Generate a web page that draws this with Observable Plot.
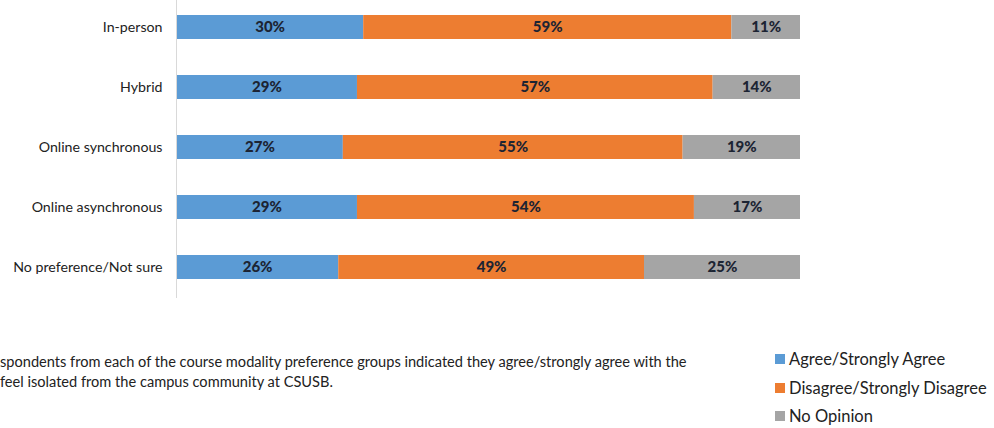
<!DOCTYPE html>
<html>
<head>
<meta charset="utf-8">
<script src="https://cdn.jsdelivr.net/npm/d3@7"></script>
<script src="https://cdn.jsdelivr.net/npm/@observablehq/plot@0.6"></script>
<style>
  html, body { margin: 0; padding: 0; background: #fff; }
  #wrap { position: relative; width: 994px; height: 428px; overflow: hidden; font-family: Lato, "Open Sans", sans-serif; color: #222; }
  #chart { position: absolute; left: 0; top: 0; }
  #caption { position: absolute; left: 0; top: 352px; font-size: 14.6px; line-height: 20px; white-space: nowrap; color: #222; }
  #legend { position: absolute; left: 775px; top: 345px; font-size: 16.5px; color: #222; }
  #legend .row { display: flex; align-items: center; height: 28.5px; white-space: nowrap; }
  #legend .sw { width: 10px; height: 10px; margin-right: 4px; }
</style>
</head>
<body>
<div id="wrap">
  <div id="chart"></div>
  <div id="caption"></div>
  <div id="legend"></div>
</div>
<script>
const categories = ["In-person", "Hybrid", "Online synchronous", "Online asynchronous", "No preference/Not sure"];
const seriesNames = ["Agree/Strongly Agree", "Disagree/Strongly Disagree", "No Opinion"];
const agree = [30, 29, 27, 29, 26];
const disagree = [59, 57, 55, 54, 49];
const noOpinion = [11, 14, 19, 17, 25];
const seriesColors = ["#5B9BD5", "#ED7D31", "#A5A5A5"];
const captionLines = [
  "spondents from each of the course modality preference groups indicated they agree/strongly agree with the",
  "feel isolated from the campus community at CSUSB."
];

const seriesValues = [agree, disagree, noOpinion];
const rows = [];
categories.forEach((c, i) => {
  seriesNames.forEach((s, j) => {
    rows.push({category: c, series: s, value: seriesValues[j][i]});
  });
});

const chart = Plot.plot({
  width: 994,
  height: 312,
  marginLeft: 176,
  marginRight: 194,
  marginTop: -4,
  marginBottom: 14,
  style: {fontFamily: "Lato, 'Open Sans', sans-serif", fontSize: "14.2px", color: "#222", background: "#fff"},
  x: {domain: [0, 1], axis: null},
  y: {domain: categories, paddingInner: 0.6, paddingOuter: 0.3, label: null, tickSize: 0, tickPadding: 14},
  color: {domain: seriesNames, range: seriesColors},
  marks: [
    Plot.barX(rows, Plot.stackX({x: "value", y: "category", fill: "series", offset: "normalize", order: seriesNames})),
    Plot.text(rows, Plot.stackX({x: "value", y: "category", z: "series", offset: "normalize", order: seriesNames,
      text: d => d.value + "%", fill: "#1c2433", fontWeight: 900, fontSize: 15})),
    Plot.ruleX([0], {stroke: "#d9d9d9", strokeWidth: 1})
  ]
});
document.getElementById("chart").appendChild(chart);

const cap = document.getElementById("caption");
captionLines.forEach(t => { const d = document.createElement("div"); d.textContent = t; cap.appendChild(d); });

const leg = document.getElementById("legend");
seriesNames.forEach((s, j) => {
  const r = document.createElement("div"); r.className = "row";
  const sw = document.createElement("span"); sw.className = "sw"; sw.style.background = seriesColors[j];
  const t = document.createElement("span"); t.textContent = s;
  r.appendChild(sw); r.appendChild(t); leg.appendChild(r);
});
</script>
</body>
</html>
